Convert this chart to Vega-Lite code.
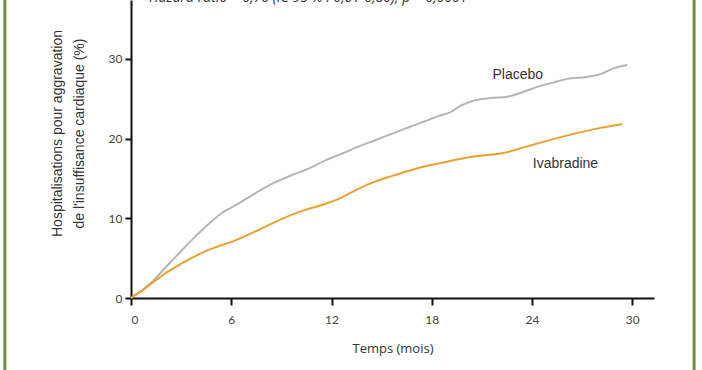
{
  "$schema": "https://vega.github.io/schema/vega-lite/v6.json",
  "autosize": {"type": "none"},
  "width": 523,
  "height": 298,
  "padding": {"left": 131, "top": 0, "right": 48, "bottom": 72},
  "background": "white",
  "title": {
    "text": "Hazard ratio = 0,70 (IC 95 % : 0,61-0,80), p = 0,0001",
    "orient": "top",
    "anchor": "start",
    "frame": "group",
    "dx": 18,
    "offset": -6,
    "font": "Open Sans",
    "fontSize": 14,
    "fontStyle": "italic",
    "fontWeight": "normal",
    "color": "#333333"
  },
  "config": {
    "view": {"stroke": null},
    "axis": {
      "domainColor": "#111111",
      "domainWidth": 2,
      "tickColor": "#111111",
      "tickWidth": 2,
      "grid": false,
      "labelColor": "#444444",
      "labelFont": "Lato",
      "labelFontSize": 12,
      "titleColor": "#333333",
      "titleFontWeight": "normal"
    }
  },
  "datasets": {
    "courbes": [
      {"mois": 0, "pct": 0, "groupe": "Placebo"},
      {"mois": 0.8, "pct": 1.2, "groupe": "Placebo"},
      {"mois": 1.4, "pct": 2.3, "groupe": "Placebo"},
      {"mois": 2.0, "pct": 3.7, "groupe": "Placebo"},
      {"mois": 2.6, "pct": 5.0, "groupe": "Placebo"},
      {"mois": 3.6, "pct": 7.2, "groupe": "Placebo"},
      {"mois": 4.6, "pct": 9.2, "groupe": "Placebo"},
      {"mois": 5.4, "pct": 10.6, "groupe": "Placebo"},
      {"mois": 6.4, "pct": 11.8, "groupe": "Placebo"},
      {"mois": 7.4, "pct": 13.1, "groupe": "Placebo"},
      {"mois": 8.6, "pct": 14.5, "groupe": "Placebo"},
      {"mois": 9.6, "pct": 15.4, "groupe": "Placebo"},
      {"mois": 10.6, "pct": 16.2, "groupe": "Placebo"},
      {"mois": 11.6, "pct": 17.25, "groupe": "Placebo"},
      {"mois": 12.6, "pct": 18.1, "groupe": "Placebo"},
      {"mois": 13.6, "pct": 19.0, "groupe": "Placebo"},
      {"mois": 14.6, "pct": 19.8, "groupe": "Placebo"},
      {"mois": 15.6, "pct": 20.6, "groupe": "Placebo"},
      {"mois": 16.6, "pct": 21.4, "groupe": "Placebo"},
      {"mois": 17.6, "pct": 22.2, "groupe": "Placebo"},
      {"mois": 18.5, "pct": 22.9, "groupe": "Placebo"},
      {"mois": 19.1, "pct": 23.3, "groupe": "Placebo"},
      {"mois": 19.7, "pct": 24.1, "groupe": "Placebo"},
      {"mois": 20.4, "pct": 24.7, "groupe": "Placebo"},
      {"mois": 21.3, "pct": 25.05, "groupe": "Placebo"},
      {"mois": 22.6, "pct": 25.3, "groupe": "Placebo"},
      {"mois": 23.4, "pct": 25.8, "groupe": "Placebo"},
      {"mois": 24.3, "pct": 26.5, "groupe": "Placebo"},
      {"mois": 25.2, "pct": 27.0, "groupe": "Placebo"},
      {"mois": 26.1, "pct": 27.5, "groupe": "Placebo"},
      {"mois": 27.3, "pct": 27.75, "groupe": "Placebo"},
      {"mois": 28.1, "pct": 28.1, "groupe": "Placebo"},
      {"mois": 28.9, "pct": 28.85, "groupe": "Placebo"},
      {"mois": 29.7, "pct": 29.25, "groupe": "Placebo"},
      {"mois": 0, "pct": 0, "groupe": "Ivabradine"},
      {"mois": 0.8, "pct": 1.15, "groupe": "Ivabradine"},
      {"mois": 1.6, "pct": 2.4, "groupe": "Ivabradine"},
      {"mois": 2.2, "pct": 3.3, "groupe": "Ivabradine"},
      {"mois": 3.0, "pct": 4.3, "groupe": "Ivabradine"},
      {"mois": 4.6, "pct": 6.0, "groupe": "Ivabradine"},
      {"mois": 6.2, "pct": 7.2, "groupe": "Ivabradine"},
      {"mois": 7.6, "pct": 8.5, "groupe": "Ivabradine"},
      {"mois": 9.0, "pct": 9.9, "groupe": "Ivabradine"},
      {"mois": 10.2, "pct": 10.9, "groupe": "Ivabradine"},
      {"mois": 11.6, "pct": 11.8, "groupe": "Ivabradine"},
      {"mois": 12.6, "pct": 12.6, "groupe": "Ivabradine"},
      {"mois": 13.6, "pct": 13.7, "groupe": "Ivabradine"},
      {"mois": 14.6, "pct": 14.6, "groupe": "Ivabradine"},
      {"mois": 15.6, "pct": 15.3, "groupe": "Ivabradine"},
      {"mois": 17.0, "pct": 16.2, "groupe": "Ivabradine"},
      {"mois": 18.2, "pct": 16.8, "groupe": "Ivabradine"},
      {"mois": 19.3, "pct": 17.3, "groupe": "Ivabradine"},
      {"mois": 20.5, "pct": 17.75, "groupe": "Ivabradine"},
      {"mois": 22.5, "pct": 18.3, "groupe": "Ivabradine"},
      {"mois": 23.5, "pct": 18.9, "groupe": "Ivabradine"},
      {"mois": 24.5, "pct": 19.5, "groupe": "Ivabradine"},
      {"mois": 26.5, "pct": 20.6, "groupe": "Ivabradine"},
      {"mois": 28.1, "pct": 21.35, "groupe": "Ivabradine"},
      {"mois": 29.4, "pct": 21.85, "groupe": "Ivabradine"}
    ],
    "etiquettes": [
      {"mois": 23.15, "pct": 28.0, "label": "Placebo"},
      {"mois": 26.0, "pct": 16.8, "label": "Ivabradine"}
    ],
    "cadre": [
      {"bord": -7.55},
      {"bord": 33.7}
    ]
  },
  "layer": [
    {
      "data": {"name": "cadre"},
      "mark": {"type": "rule", "color": "#6e8f3c", "strokeWidth": 3},
      "encoding": {
        "x": {"field": "bord", "type": "quantitative", "scale": {"domain": [0, 31.3], "nice": false, "zero": false}},
        "y": {"datum": 37.4, "type": "quantitative"},
        "y2": {"datum": -9.2}
      }
    },
    {
      "data": {"name": "courbes"},
      "mark": {"type": "line", "strokeWidth": 2, "interpolate": "monotone"},
      "encoding": {
        "x": {
          "field": "mois",
          "type": "quantitative",
          "scale": {"domain": [0, 31.3], "nice": false, "zero": false},
          "axis": {
            "values": [0, 6, 12, 18, 24, 30],
            "tickSize": 7,
            "labelPadding": 9,
            "title": "Temps (mois)",
            "titleFont": "Open Sans",
            "titleFontSize": 13,
            "titlePadding": 17
          }
        },
        "y": {
          "field": "pct",
          "type": "quantitative",
          "scale": {"domain": [0, 37.4], "nice": false},
          "axis": {
            "values": [0, 10, 20, 30],
            "tickSize": 6,
            "labelPadding": 3,
            "title": ["Hospitalisations pour aggravation", "de l'insuffisance cardiaque (%)"],
            "titleFont": "Liberation Sans",
            "titleFontSize": 14,
            "titlePadding": 22,
            "titleLineHeight": 22,
            "titleY": 133
          }
        },
        "color": {
          "field": "groupe",
          "type": "nominal",
          "scale": {"domain": ["Placebo", "Ivabradine"], "range": ["#b5b5b5", "#e9a232"]},
          "legend": null
        },
        "detail": {"field": "groupe"}
      }
    },
    {
      "data": {"name": "etiquettes"},
      "mark": {"type": "text", "font": "Liberation Sans", "fontSize": 14, "color": "#333333", "align": "center", "baseline": "middle"},
      "encoding": {
        "x": {"field": "mois", "type": "quantitative"},
        "y": {"field": "pct", "type": "quantitative"},
        "text": {"field": "label"}
      }
    }
  ]
}
